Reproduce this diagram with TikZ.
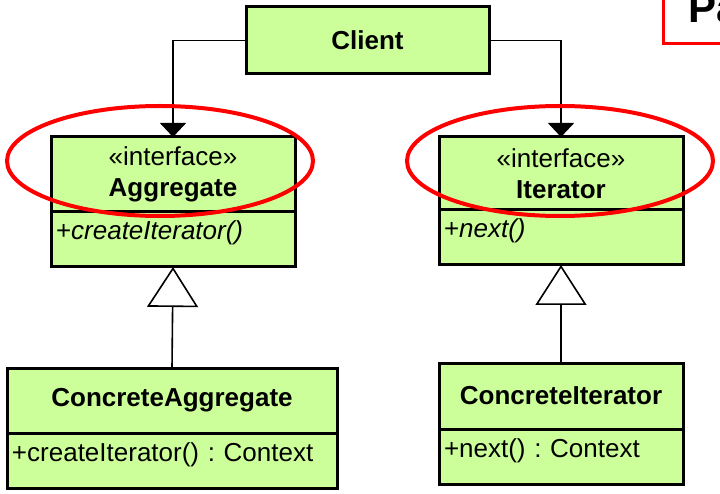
\documentclass[tikz,border=0pt]{standalone}
\usepackage{fontspec}
\setmainfont{Liberation Sans}
\frenchspacing
\usetikzlibrary{arrows.meta}
\definecolor{classgreen}{RGB}{204,255,153}
\tikzset{
	umltext/.style={font=\fontsize{26}{31}\selectfont},
	classhead/.style={draw, line width=3pt, fill=classgreen, align=center, inner sep=0pt, outer sep=0pt, umltext},
	classbody/.style={draw, line width=3pt, fill=classgreen, anchor=north, align=left, inner xsep=5pt, inner ysep=3pt, outer sep=0pt, text height=25pt, text depth=24pt, umltext},
	assoc/.style={line width=1.6pt, -{Triangle[width=26pt,length=14pt]}},
	gen/.style={line width=1.6pt, -{Triangle[open,width=51pt,length=40pt]}},
	focus/.style={draw=red, line width=4pt},
}

\begin{document}
\begin{tikzpicture}[x=1pt, y=-1pt]
		\useasboundingbox (0,0) rectangle (720,494);
		\clip (0,0) rectangle (720,494);
		
		\node [classhead, minimum width=243pt, minimum height=67pt] (client) at (367.5,40.5) {\textbf{Client}};
		
		\node [classhead, minimum width=244pt, minimum height=75pt] (aggHead) at (173,174.5) {«interface»\\\textbf{Aggregate}};
		\node [classbody, text width=234pt] (aggBody) at (aggHead.south) {+\textit{createIterator()}};
		
		\node [classhead, minimum width=244pt, minimum height=73pt] (itHead) at (561,173.5) {«interface»\\\textbf{Iterator}};
		\node [classbody, text width=234pt] (itBody) at (itHead.south) {+\textit{next()}};
		
		\node [classhead, minimum width=330pt, minimum height=65pt] (cAggHead) at (172,400.5) {\textbf{ConcreteAggregate}};
		\node [classbody, text width=320pt] (cAggBody) at (cAggHead.south) {+createIterator() : Context};
		
		\node [classhead, minimum width=244pt, minimum height=66pt] (cItHead) at (561,396) {\textbf{ConcreteIterator}};
		\node [classbody, text width=234pt] (cItBody) at (cItHead.south) {+next() : Context};
		
		\draw [assoc] (client.west) -| (aggHead.north);
		\draw [assoc] (client.east) -| (itHead.north);
		\draw [gen] (cAggHead.north) -- (aggBody.south);
		\draw [gen] (cItHead.north) -- (itBody.south);
		
		\draw [focus] (160,161) ellipse [x radius=153pt, y radius=55pt];
		\draw [focus] (560,161) ellipse [x radius=153pt, y radius=55pt];
		
		\draw [red, line width=3pt] (663,-10) rectangle (740,44);
		\node [anchor=base west, inner sep=0pt, font=\bfseries\fontsize{42}{42}\selectfont] (title) at (688,23) {Pa};
		
\end{tikzpicture}
\end{document}
